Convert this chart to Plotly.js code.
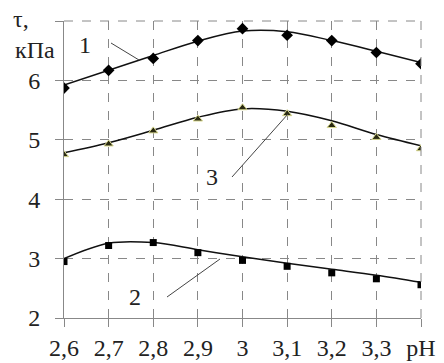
<!DOCTYPE html>
<html><head><meta charset="utf-8">
<script src="https://cdn.plot.ly/plotly-3.0.1.min.js"></script>
<style>html,body{margin:0;padding:0;background:#fff}#c{width:444px;height:363px}</style>
</head><body><div id="c"></div>
<script>
const pH = [2.6, 2.7, 2.8, 2.9, 3.0, 3.1, 3.2, 3.3, 3.4];
const tickLabels = ['2,6', '2,7', '2,8', '2,9', '3', '3,1', '3,2', '3,3', 'pH'];
const s1Points = [5.87, 6.17, 6.37, 6.67, 6.87, 6.76, 6.67, 6.47, 6.28];
const s1Curve  = [5.92, 6.17, 6.42, 6.66, 6.83, 6.82, 6.67, 6.49, 6.30];
const s3Points = [4.75, 4.93, 5.15, 5.35, 5.54, 5.44, 5.24, 5.04, 4.85];
const s3Curve  = [4.78, 4.95, 5.16, 5.38, 5.52, 5.48, 5.32, 5.09, 4.90];
const s2Points = [2.95, 3.22, 3.27, 3.10, 2.97, 2.87, 2.76, 2.66, 2.56];
const s2Curve  = [3.00, 3.26, 3.27, 3.15, 3.03, 2.92, 2.82, 2.72, 2.60];

const FAM = 'Liberation Serif';
const font = {family: FAM, size: 24, color: '#222'};
const curve = (y) => ({x: pH, y: y, mode: 'lines', line: {color: '#111', width: 1.5, shape: 'spline', smoothing: 1}, hoverinfo: 'skip'});
const traces = [
  curve(s1Curve), curve(s3Curve), curve(s2Curve),
  {x: pH, y: s1Points, mode: 'markers', marker: {symbol: 'diamond', size: 9, color: '#000'}},
  {x: pH, y: s3Points, mode: 'markers', marker: {symbol: 'triangle-up', size: 8, color: '#2a2a12', line: {color: '#d8d890', width: 1}}},
  {x: pH, y: s2Points, mode: 'markers', marker: {symbol: 'square', size: 7, color: '#000'}}
];
const leader = (x0, y0, x1, y1) => ({type: 'line', xref: 'paper', yref: 'paper', x0: x0, y0: y0, x1: x1, y1: y1, line: {color: '#444', width: 1}});
const px = (x) => (x - 64) / 357, py = (y) => (318 - y) / 297;
const label = (t, x, y) => ({text: t, xref: 'paper', yref: 'paper', x: px(x), y: py(y), xanchor: 'center', yanchor: 'middle', showarrow: false, font: font});
const layout = {
  width: 444, height: 363,
  margin: {l: 64, r: 23, t: 21, b: 45},
  paper_bgcolor: '#fff', plot_bgcolor: '#fff',
  showlegend: false,
  font: font,
  xaxis: {range: [2.6, 3.4], tickvals: pH, ticktext: tickLabels, showgrid: true, gridcolor: '#888', griddash: 'dash', gridwidth: 1,
          showline: true, linecolor: '#888', linewidth: 1, ticks: 'outside', ticklen: 8, tickcolor: '#888', zeroline: false, tickfont: font, fixedrange: true},
  yaxis: {range: [2, 7], tickvals: [2, 3, 4, 5, 6, 7], ticktext: ['2', '3', '4', '5', '6', ''], showgrid: true, gridcolor: '#888', griddash: 'dash', gridwidth: 1,
          showline: true, linecolor: '#888', linewidth: 1, ticks: 'outside', ticklen: 8, tickcolor: '#888', zeroline: false, tickfont: font, ticklabelstandoff: 10, fixedrange: true},
  shapes: [
    {type: 'line', xref: 'paper', yref: 'paper', x0: 1, x1: 1, y0: 0, y1: 1, line: {color: '#888', width: 1, dash: 'dash'}},
    {type: 'line', xref: 'paper', yref: 'paper', x0: 0, x1: 1, y0: 1, y1: 1, line: {color: '#888', width: 1, dash: 'dash'}},
    leader(px(111), py(43), px(139), py(60)),
    leader(px(232), py(177), px(288), py(114)),
    leader(px(167), py(297), px(220), py(259))
  ],
  annotations: [
    label('1', 85, 45),
    label('3', 212, 177),
    label('2', 135, 297),
    label('τ,', 21, 19),
    label('кПа', 35, 50)
  ]
};
Plotly.newPlot('c', traces, layout, {displayModeBar: false, staticPlot: true});
</script></body></html>
